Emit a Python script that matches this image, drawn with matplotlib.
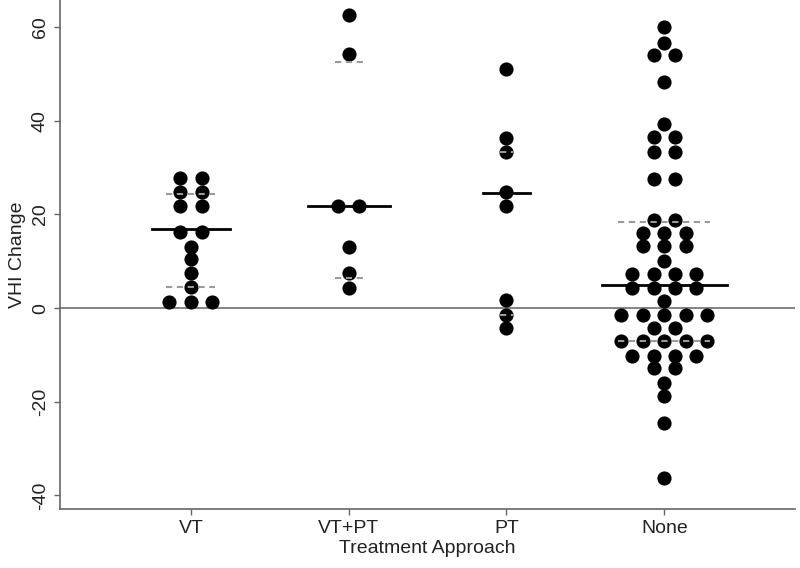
import numpy as np
import matplotlib
matplotlib.use("Agg")
import matplotlib.pyplot as plt

plt.rcParams['font.family'] = ['Liberation Sans', 'DejaVu Sans']

# data (VHI change per patient, by treatment group)
groups = ['VT', 'VT+PT', 'PT', 'None']

vt = [27.8, 27.8, 24.8, 24.8, 21.9, 21.9, 16.3, 16.3, 13.1, 10.5, 7.5, 4.5,
      1.3, 1.3, 1.3]
vt_pt = [62.7, 54.2, 21.8, 21.8, 13.1, 7.5, 4.3]
pt = [51.0, 36.4, 33.4, 24.8, 21.8, 1.7, -1.5, -4.3]
none = [60.0, 56.7, 54.0, 54.0, 48.2, 39.4, 36.6, 36.6, 33.4, 33.4, 27.6, 27.6,
        18.8, 18.8, 16.1, 16.1, 16.1, 13.2, 13.2, 13.2, 10.1,
        7.3, 7.3, 7.3, 7.3, 4.3, 4.3, 4.3, 4.3, 1.5,
        -1.5, -1.5, -1.5, -1.5, -1.5, -4.3, -4.3,
        -7.1, -7.1, -7.1, -7.1, -7.1, -10.3, -10.3, -10.3, -10.3,
        -12.9, -12.9, -16.1, -18.8, -24.6, -36.4]
series = [vt, vt_pt, pt, none]

medians = [16.9, 21.8, 24.6, 4.9]
q_upper = [24.4, 52.5, 33.4, 18.4]
q_lower = [4.4, 6.4, -1.5, -7.1]

# line half-widths (x units) as drawn in the original
med_half = [0.245, 0.26, 0.15, 0.395]
q_half = [0.155, 0.09, 0.04, 0.29]
spacing = 0.136

fig = plt.figure(figsize=(8, 5.68), dpi=100)
ax = fig.add_axes([0.075, 0.104, 0.919, 0.896])

ax.axhline(0, color='#7a7a7a', lw=1.3, zorder=1)

for i, vals in enumerate(series):
    pos = i + 1
    vals = np.array(vals)
    xs = []
    ys = []
    for v in np.unique(vals):
        n = np.sum(vals == v)
        offs = (np.arange(n) - (n - 1) / 2) * spacing
        xs.extend(pos + offs)
        ys.extend([v] * n)
    ax.plot(xs, ys, 'o', color='black', markersize=10.2, markeredgewidth=0,
            zorder=3)
    ax.plot([pos - med_half[i], pos + med_half[i]], [medians[i]] * 2,
            color='black', lw=2.0, zorder=4)
    for q in (q_upper[i], q_lower[i]):
        ax.plot([pos - q_half[i], pos + q_half[i]], [q, q], color='#9a9a9a',
                lw=1.5, dashes=(3.0, 2.2), zorder=4)

ax.set_xlim(0.17, 4.83)
ax.set_ylim(-42.9, 65.8)
ax.set_xticks(range(1, 5))
ax.set_xticklabels(groups)
ax.set_yticks([-40, -20, 0, 20, 40, 60])
ax.set_yticklabels(['-40', '-20', '0', '20', '40', '60'], rotation=90,
                   va='center')

for side in ('top', 'right'):
    ax.spines[side].set_visible(False)
for side in ('left', 'bottom'):
    ax.spines[side].set_color('#666666')
    ax.spines[side].set_linewidth(1.2)

ax.tick_params(axis='both', colors='#666666', length=4, width=1.0,
               labelsize=14, labelcolor='#222222')
ax.tick_params(axis='x', pad=4)
ax.tick_params(axis='y', pad=4)

ax.set_xlabel('Treatment Approach', fontsize=14, color='#222222', labelpad=2)
ax.set_ylabel('VHI Change', fontsize=14, color='#222222', labelpad=4)

fig.savefig('out.png', dpi=100)
